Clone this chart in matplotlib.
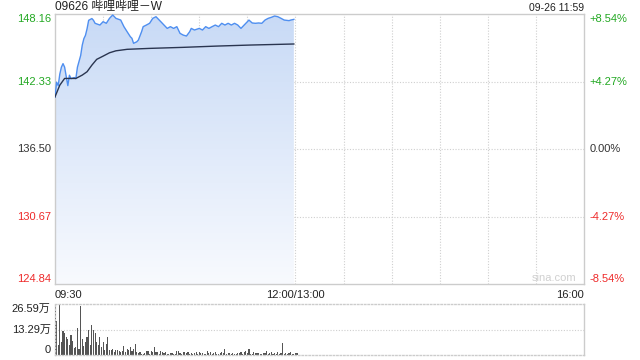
import numpy as np
import matplotlib.pyplot as plt
from matplotlib.colors import LinearSegmentedColormap
from matplotlib.patches import PathPatch
from matplotlib.path import Path

plt.rcParams['font.family'] = ['Liberation Sans', 'Noto Sans CJK SC', 'DejaVu Sans']
plt.rcParams['font.size'] = 8

# Minutes after 09:30 (trading minutes, lunch break removed) and prices
price_min = [0, 1, 2, 3, 4, 5, 6, 8, 9, 10, 12, 13, 14, 16, 17, 18, 19, 20, 21, 23, 24,
             25, 28, 30, 32, 34, 36, 38, 41, 43, 45, 47, 48, 49, 51, 52, 54, 55, 57, 59,
             61, 63, 66, 68, 70, 72, 74, 76, 78, 80, 82, 84, 85, 87, 90, 92,
             94, 96, 98, 100, 102, 104, 106, 108, 110, 112, 114, 116, 118, 121, 123, 125,
             127, 129, 131, 133, 135, 137, 139, 141, 143, 146, 147, 149]
price_val = [141.00, 142.30, 142.00, 143.00, 143.60, 143.90, 143.60, 142.00, 142.90, 142.60,
             142.70, 142.60, 143.60, 144.60, 145.50, 146.06, 146.35, 146.92, 147.65, 147.80,
             147.65,
             147.39, 147.24, 147.53, 147.39, 147.82, 148.11, 147.82, 147.67, 147.10, 146.66,
             146.23, 146.09, 145.66, 145.79, 145.94, 146.66, 147.10, 147.24, 147.39,
             147.82, 147.96, 147.53, 147.24, 146.95, 147.10, 146.95, 147.10, 146.52, 146.37,
             146.29, 146.66, 146.95, 146.81, 146.95, 146.81,
             147.10, 146.95, 147.10, 147.24, 147.10, 147.39, 147.24, 147.39,
             147.24, 147.39, 147.24, 146.95, 147.24, 147.67, 147.42, 147.39, 147.42, 147.39,
             147.67, 147.82, 147.91, 148.02, 147.96, 147.82, 147.67, 147.62, 147.67, 147.73]

avg_min = [0, 3, 6, 13, 17, 20, 23, 26, 30, 34, 38, 45, 59, 80, 101, 122, 149]
avg_val = [141.03, 142.04, 142.62, 142.62, 142.91, 143.20, 143.77, 144.27, 144.55, 144.84,
           145.01, 145.14, 145.22, 145.31, 145.42, 145.51, 145.60]

# Volume per minute, in 万
volume = [25.3, 17.6, 5.0, 26.59, 6.8, 12.7, 11.3, 9.5, 8.6, 5.0, 10.4, 7.4, 3.6, 4.1, 14.0,
          3.2, 25.3, 8.1, 4.5, 6.8, 9.5, 13.1, 5.0, 15.8, 13.1, 11.3, 6.8, 5.0, 9.5, 4.1,
          6.8, 2.7, 5.9, 9.5, 2.7,
          2.7, 3.2, 1.4, 2.7, 2.7, 2.3, 1.4, 2.0, 4.5, 1.4, 3.2, 2.7, 4.1, 2.3, 3.2, 5.9,
          1.4, 0.9, 1.4, 0.5, 0.5, 0.9, 2.0, 2.3, 0.5, 2.3, 1.4, 4.1, 1.4, 1.4, 0.5, 2.0,
          1.4, 0.9, 1.4, 0.5, 0.5,
          0.9, 1.2, 0.7, 0.5, 2.3, 2.0, 0.9, 0.5, 1.6, 1.4, 0.9, 1.4, 0.7, 1.2, 0.5, 0.9,
          1.4, 0.7, 1.6, 0.9, 1.2, 0.5, 0.7, 2.3, 0.9, 1.4, 0.5, 1.2, 1.6, 0.7, 0.5, 1.2,
          1.4, 0.9, 2.9, 0.7, 1.2, 0.9, 0.5,
          0.9, 0.5, 0.7, 1.2, 0.9, 1.4, 0.7, 1.6, 2.0, 0.9, 2.9, 0.7, 0.5, 1.6, 1.2, 0.9,
          1.2, 0.5, 0.7, 0.9, 1.2, 2.0, 0.7, 0.9, 1.4, 0.5, 1.2, 0.7, 1.6, 0.5, 0.9, 6.3,
          0.7, 1.2, 0.5, 0.9, 1.4, 0.5, 0.7, 1.2, 0.9]

prev_close = 136.50
price_ticks = [148.16, 142.33, 136.50, 130.67, 124.84]
pct_ticks = ['+8.54%', '+4.27%', '0.00%', '-4.27%', '-8.54%']
tick_colors = ['#22a822', '#22a822', '#333333', '#ee2a2a', '#ee2a2a']
vol_ticks = [26.59, 13.29, 0]
vol_labels = ['26.59万', '13.29万', '0']

grid_c = '#cfcfcf'
border_c = '#cccccc'

fig = plt.figure(figsize=(6.4, 3.6), dpi=100)
ax = fig.add_axes([55 / 640, 1 - 284 / 360, 529 / 640, 269.6 / 360])
axv = fig.add_axes([55 / 640, 1 - 355 / 360, 529 / 640, 51 / 360])

# main price panel
ax.set_xlim(0, 330)
ax.set_ylim(price_ticks[-1], price_ticks[0])
for x in range(30, 330, 30):
    ax.axvline(x, color=grid_c, lw=0.8, ls=(0, (1, 1.5)), zorder=0)
for y in price_ticks[1:-1]:
    ax.axhline(y, color=grid_c, lw=0.8, ls=(0, (1, 1.5)), zorder=0)

# gradient fill under the price line
poly_x = [price_min[0]] + price_min + [price_min[-1]]
poly_y = [price_ticks[-1]] + price_val + [price_ticks[-1]]
clip = PathPatch(Path(np.column_stack([poly_x, poly_y])), transform=ax.transData,
                 facecolor='none', edgecolor='none')
ax.add_patch(clip)
cmap = LinearSegmentedColormap.from_list('fill', ['#f8fafe', '#c8daf6'])
grad = np.linspace(0, 1, 256).reshape(-1, 1)
im = ax.imshow(grad, extent=[0, price_min[-1], price_ticks[-1], price_ticks[0]],
               origin='lower', aspect='auto', cmap=cmap, zorder=1)
im.set_clip_path(clip)

ax.plot(price_min, price_val, color='#4f8ff0', lw=1.0, zorder=3)
ax.plot(avg_min, avg_val, color='#2a3550', lw=1.0, zorder=3)

ax.set_xticks([])
ax.set_yticks([])
for s in ax.spines.values():
    s.set_color(border_c)
    s.set_linewidth(1.0)

# price labels left, percent labels right
for i, (p, pc, c) in enumerate(zip(price_ticks, pct_ticks, tick_colors)):
    va = 'top' if i == 0 else ('bottom' if i == len(price_ticks) - 1 else 'center')
    ax.text(-0.008, p, f'{p:.2f}', transform=ax.get_yaxis_transform(), ha='right', va=va,
            color=c, fontsize=8)
    ax.text(1.01, p, pc, transform=ax.get_yaxis_transform(), ha='left', va=va,
            color=c, fontsize=8)

ax.text(0, -0.022, '09:30', transform=ax.transAxes, ha='left', va='top', fontsize=8, color='#222222')
ax.text(150 / 330, -0.022, '12:00/13:00', transform=ax.transAxes, ha='center', va='top',
        fontsize=8, color='#222222')
ax.text(1, -0.022, '16:00', transform=ax.transAxes, ha='right', va='top', fontsize=8, color='#222222')
ax.text(0.985, 0.003, 'sina.com', transform=ax.transAxes, ha='right', va='bottom',
        fontsize=8, color='#d0d0d0')

ax.text(0, 1.006, '09626 哔哩哔哩－W', transform=ax.transAxes, ha='left', va='bottom',
        fontsize=8.6, color='#222222')
ax.text(1, 1.006, '09-26 11:59', transform=ax.transAxes, ha='right', va='bottom',
        fontsize=7.5, color='#222222')

# volume panel
axv.bar(np.arange(len(volume)), volume, width=0.7, color='#555555', zorder=2)
axv.set_xlim(0, 330)
axv.set_ylim(0, vol_ticks[0])
axv.axhline(vol_ticks[1], color=grid_c, lw=0.8, ls=(0, (1, 1.5)), zorder=0)
axv.set_xticks([])
axv.set_yticks([])
for name, s in axv.spines.items():
    s.set_color(border_c)
    s.set_linewidth(1.0)
    if name != 'right':
        s.set_linestyle((0, (1, 1.5)))
for i, (v, lab) in enumerate(zip(vol_ticks, vol_labels)):
    va = 'top' if i == 0 else ('bottom' if i == len(vol_ticks) - 1 else 'center')
    axv.text(-0.008, v, lab, transform=axv.get_yaxis_transform(), ha='right', va=va,
             fontsize=8, color='#222222')

fig.savefig('out.png', dpi=100)
